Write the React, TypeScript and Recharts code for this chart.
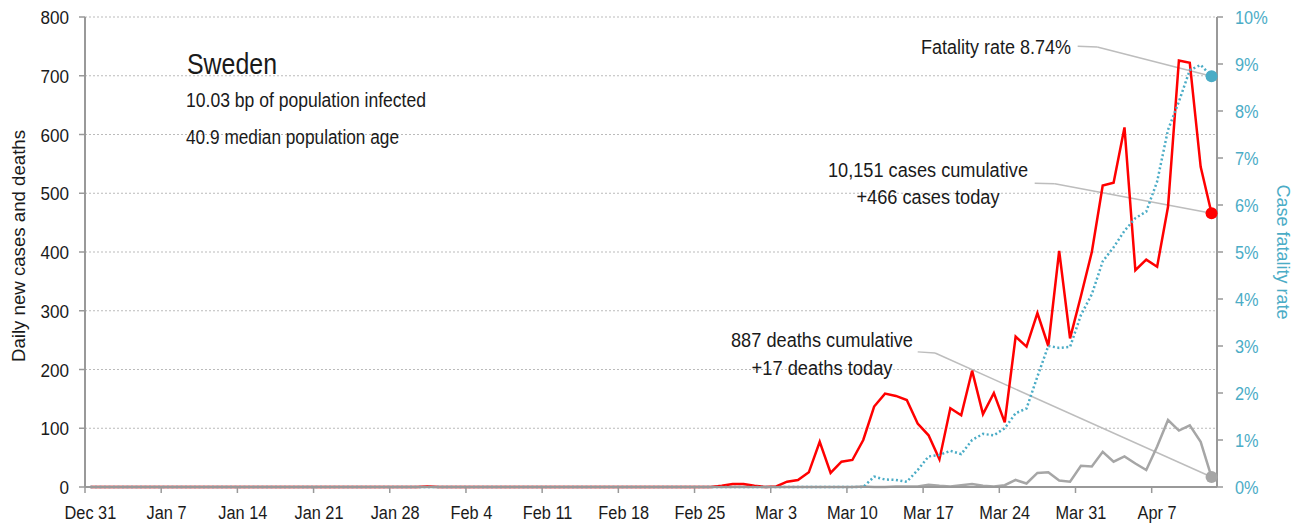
import { LineChart, Line, XAxis, YAxis, CartesianGrid, ReferenceLine } from "recharts"

// one value per day, Dec 31 .. Apr 12, written a week per row
const cases = [
  0, 0, 0, 0, 0, 0, 0,
  0, 0, 0, 0, 0, 0, 0,
  0, 0, 0, 0, 0, 0, 0,
  0, 0, 0, 0, 0, 0, 0,
  0, 0, 0, 1, 0, 0, 0,
  0, 0, 0, 0, 0, 0, 0,
  0, 0, 0, 0, 0, 0, 0,
  0, 0, 0, 0, 0, 0, 0,
  0, 0, 2, 5, 5, 2, 0,
  1, 9, 12, 25, 77, 24, 43,
  46, 80, 137, 159, 155, 148, 108,
  88, 47, 134, 122, 198, 124, 160,
  110, 256, 239, 296, 240, 402, 253,
  325, 400, 513, 518, 612, 369, 387,
  375, 477, 726, 722, 545, 466,
]

const deaths = [
  0, 0, 0, 0, 0, 0, 0,
  0, 0, 0, 0, 0, 0, 0,
  0, 0, 0, 0, 0, 0, 0,
  0, 0, 0, 0, 0, 0, 0,
  0, 0, 0, 0, 0, 0, 0,
  0, 0, 0, 0, 0, 0, 0,
  0, 0, 0, 0, 0, 0, 0,
  0, 0, 0, 0, 0, 0, 0,
  0, 0, 0, 0, 0, 0, 0,
  0, 0, 0, 0, 0, 0, 0,
  0, 1, 0, 0, 1, 1, 1,
  4, 2, 1, 3, 5, 2, 1,
  3, 12, 6, 24, 25, 11, 9,
  36, 35, 60, 43, 52, 40, 29,
  69, 114, 96, 105, 77, 17,
]

// case fatality rate, %
const fatality = [
  0, 0, 0, 0, 0, 0, 0,
  0, 0, 0, 0, 0, 0, 0,
  0, 0, 0, 0, 0, 0, 0,
  0, 0, 0, 0, 0, 0, 0,
  0, 0, 0, 0, 0, 0, 0,
  0, 0, 0, 0, 0, 0, 0,
  0, 0, 0, 0, 0, 0, 0,
  0, 0, 0, 0, 0, 0, 0,
  0, 0, 0, 0, 0, 0, 0,
  0, 0, 0, 0, 0, 0, 0,
  0, 0, 0.22, 0.16, 0.15, 0.11, 0.36,
  0.65, 0.68, 0.77, 0.7, 1.0, 1.13, 1.1,
  1.25, 1.57, 1.67, 2.35, 3.0, 2.96, 2.98,
  3.66, 4.1, 4.8, 5.1, 5.45, 5.72, 5.86,
  6.5, 7.6, 8.2, 8.87, 8.98, 8.74,
]

const tickDays = [0, 7, 14, 21, 28, 35, 42, 49, 56, 63, 70, 77, 84, 91, 98]
const tickLabels = [
  "Dec 31", "Jan 7", "Jan 14", "Jan 21", "Jan 28", "Feb 4", "Feb 11", "Feb 18",
  "Feb 25", "Mar 3", "Mar 10", "Mar 17", "Mar 24", "Mar 31", "Apr 7",
]
const leftTicks = [0, 100, 200, 300, 400, 500, 600, 700, 800]
const rightTicks = [0, 1, 2, 3, 4, 5, 6, 7, 8, 9, 10]

const FONT = "'Liberation Sans', Arial, sans-serif"
const RED = "#ff0000"
const GREY = "#a6a6a6"
const BLUE = "#4bacc6"
const AXIS = "#999999"
const CONNECTOR = "#bdbdbd"
const INK = "#1a1a1a"
// the original face is a condensed grotesque; squeeze Liberation Sans to match
const SQUEEZE = 0.86

// points sit at midday, ticks at midnight
const data = cases.map((c, i) => ({
  t: i + 0.5,
  cases: c,
  deaths: deaths[i],
  fatality: fatality[i],
}))
const last = data[data.length - 1]

function lastDot(color: string) {
  return (props: any) => {
    if (props.index !== data.length - 1) return <g key={props.index} />
    return <circle key={props.index} cx={props.cx} cy={props.cy} r={6} fill={color} />
  }
}

function DateTick(props: any) {
  const { x, y, payload } = props
  const label = tickLabels[tickDays.indexOf(payload.value)]
  return (
    <text
      transform={`translate(${x + 5.4},${y + 24}) scale(${SQUEEZE},1)`}
      textAnchor="middle" fill={INK} fontSize={19} fontFamily={FONT}
    >
      {label}
    </text>
  )
}

function LeftTick(props: any) {
  const { x, y, payload } = props
  return (
    <text
      transform={`translate(${x},${y + 7}) scale(0.9,1)`}
      textAnchor="end" fill={INK} fontSize={19} fontFamily={FONT}
    >
      {payload.value}
    </text>
  )
}

function RightTick(props: any) {
  const { x, y, payload } = props
  return (
    <text
      transform={`translate(${x},${y + 7}) scale(0.86,1)`}
      textAnchor="start" fill={BLUE} fontSize={19} fontFamily={FONT}
    >
      {payload.value + "%"}
    </text>
  )
}

function Note(props: { x: number; y: number; w: number; size: number; anchor?: string; children: string }) {
  const { x, y, w, size, anchor, children } = props
  return (
    <text
      x={x} y={y} fontSize={size} fill={INK} textAnchor={anchor || "start"}
      textLength={w} lengthAdjust="spacingAndGlyphs"
    >
      {children}
    </text>
  )
}

export default function App() {
  return (
    <div style={{ position: "absolute", left: 0, top: 0, width: 1304, height: 526, background: "#fff" }}>
      <LineChart
        width={1304}
        height={526}
        data={data}
        margin={{ top: 17, right: 0, bottom: 0, left: 0 }}
      >
        <CartesianGrid
          yAxisId="left"
          vertical={false}
          stroke="#bbbbbb"
          strokeDasharray="2 2"
        />
        <XAxis
          dataKey="t"
          type="number"
          domain={[0, 104]}
          ticks={tickDays}
          interval={0}
          height={39}
          tickSize={6}
          tick={<DateTick />}
          axisLine={{ stroke: AXIS, strokeWidth: 2 }}
          tickLine={{ stroke: AXIS, strokeWidth: 1.5 }}
        />
        <YAxis
          yAxisId="left"
          domain={[0, 800]}
          ticks={leftTicks}
          interval={0}
          width={85}
          tickSize={6}
          tickMargin={10}
          tick={<LeftTick />}
          axisLine={{ stroke: AXIS, strokeWidth: 2 }}
          tickLine={{ stroke: AXIS, strokeWidth: 1.5 }}
        />
        <YAxis
          yAxisId="right"
          orientation="right"
          domain={[0, 10]}
          ticks={rightTicks}
          interval={0}
          width={87}
          tickSize={6}
          tickMargin={12}
          tick={<RightTick />}
          axisLine={{ stroke: AXIS, strokeWidth: 2 }}
          tickLine={{ stroke: AXIS, strokeWidth: 1.5 }}
        />

        <ReferenceLine yAxisId="right" stroke={CONNECTOR} strokeWidth={1.5}
          segment={[{ x: 91.2, y: 9.38 }, { x: 93.0, y: 9.36 }]} />
        <ReferenceLine yAxisId="right" stroke={CONNECTOR} strokeWidth={1.5}
          segment={[{ x: 93.0, y: 9.36 }, { x: last.t, y: last.fatality }]} />
        <ReferenceLine yAxisId="left" stroke={CONNECTOR} strokeWidth={1.5}
          segment={[{ x: 87.25, y: 517 }, { x: 89.1, y: 516 }]} />
        <ReferenceLine yAxisId="left" stroke={CONNECTOR} strokeWidth={1.5}
          segment={[{ x: 89.1, y: 516 }, { x: last.t, y: last.cases }]} />
        <ReferenceLine yAxisId="left" stroke={CONNECTOR} strokeWidth={1.5}
          segment={[{ x: 76.5, y: 230 }, { x: 78.1, y: 228 }]} />
        <ReferenceLine yAxisId="left" stroke={CONNECTOR} strokeWidth={1.5}
          segment={[{ x: 78.1, y: 228 }, { x: last.t, y: last.deaths }]} />

        <Line
          yAxisId="left"
          dataKey="deaths"
          stroke={GREY}
          strokeWidth={2.5}
          dot={lastDot(GREY)}
          activeDot={false}
          isAnimationActive={false}
        />
        <Line
          yAxisId="left"
          dataKey="cases"
          stroke={RED}
          strokeWidth={2.5}
          dot={lastDot(RED)}
          activeDot={false}
          isAnimationActive={false}
        />
        <Line
          yAxisId="right"
          dataKey="fatality"
          stroke={BLUE}
          strokeWidth={2.5}
          strokeDasharray="2 2.5"
          dot={lastDot(BLUE)}
          activeDot={false}
          isAnimationActive={false}
        />
      </LineChart>

      <svg
        width={1304}
        height={526}
        style={{ position: "absolute", left: 0, top: 0, pointerEvents: "none" }}
        fontFamily={FONT}
      >
        <Note x={187} y={74} w={90} size={30}>Sweden</Note>
        <Note x={186} y={107} w={240} size={20}>10.03 bp of population infected</Note>
        <Note x={186} y={144} w={213} size={20}>40.9 median population age</Note>

        <Note x={1071} y={54} w={150} size={20} anchor="end">Fatality rate 8.74%</Note>
        <Note x={928} y={177} w={200} size={20} anchor="middle">10,151 cases cumulative</Note>
        <Note x={928} y={204} w={143} size={20} anchor="middle">+466 cases today</Note>
        <Note x={822} y={347} w={182} size={20} anchor="middle">887 deaths cumulative</Note>
        <Note x={822} y={375} w={141} size={20} anchor="middle">+17 deaths today</Note>

        <text
          transform="translate(25,246) rotate(-90)" fontSize={18} fill={INK} textAnchor="middle"
          textLength={232} lengthAdjust="spacingAndGlyphs"
        >
          Daily new cases and deaths
        </text>
        <text
          transform="translate(1277,252) rotate(90)" fontSize={18} fill={BLUE} textAnchor="middle"
          textLength={135} lengthAdjust="spacingAndGlyphs"
        >
          Case fatality rate
        </text>
      </svg>
    </div>
  )
}
